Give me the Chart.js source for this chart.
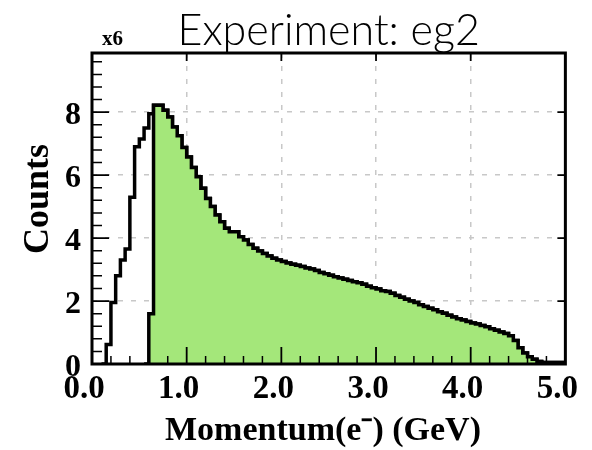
<!DOCTYPE html>
<html><head><meta charset="utf-8">
<script src="https://cdn.jsdelivr.net/npm/chart.js@4.4.0/dist/chart.umd.min.js"></script>
<style>html,body{margin:0;padding:0;background:#fff;}#wrap{width:592px;height:450px;}</style>
</head><body><div id="wrap"><canvas id="c" width="592" height="450"></canvas></div>
<script>
// ---- data (momentum bins of 0.05 GeV, counts in units of 10^6) ----
const binLowEdges = [0.10,0.15,0.20,0.25,0.30,0.35,0.40,0.45,0.50,0.55,0.60,0.65,0.70,0.75,0.80,0.85,0.90,0.95,
  1.00,1.05,1.10,1.15,1.20,1.25,1.30,1.35,1.40,1.45,1.50,1.55,1.60,1.65,1.70,1.75,1.80,1.85,1.90,1.95,
  2.00,2.05,2.10,2.15,2.20,2.25,2.30,2.35,2.40,2.45,2.50,2.55,2.60,2.65,2.70,2.75,2.80,2.85,2.90,2.95,
  3.00,3.05,3.10,3.15,3.20,3.25,3.30,3.35,3.40,3.45,3.50,3.55,3.60,3.65,3.70,3.75,3.80,3.85,3.90,3.95,
  4.00,4.05,4.10,4.15,4.20,4.25,4.30,4.35,4.40,4.45,4.50,4.55,4.60,4.65,4.70,4.75,4.80,4.85,4.90,4.95];
const histUpperEdge = 5.00;
const countsAll = [0,0.62,1.95,2.8,3.3,3.65,5.3,6.9,7.15,7.5,7.95,8.22,8.22,8.06,7.85,7.53,7.25,6.88,
  6.58,6.24,5.95,5.58,5.26,5.0,4.73,4.52,4.31,4.2,4.2,4.04,3.94,3.8,3.68,3.59,3.51,3.43,3.36,3.3,
  3.26,3.21,3.17,3.14,3.1,3.05,3.02,2.97,2.91,2.87,2.82,2.77,2.73,2.69,2.65,2.61,2.58,2.53,2.47,2.42,
  2.38,2.33,2.3,2.25,2.18,2.12,2.06,2.0,1.95,1.88,1.83,1.77,1.72,1.66,1.61,1.55,1.49,1.44,1.4,1.35,
  1.3,1.27,1.22,1.18,1.12,1.07,1.02,0.97,0.9,0.75,0.52,0.35,0.23,0.15,0.08,0.05,0.05,0.05,0.05,0.05];
const countsCut = [null,null,null,null,null,null,null,null,null,0,1.6,8.22,8.22,8.06,7.85,7.53,7.25,6.88,
  6.58,6.24,5.95,5.58,5.26,5.0,4.73,4.52,4.31,4.2,4.2,4.04,3.94,3.8,3.68,3.59,3.51,3.43,3.36,3.3,
  3.26,3.21,3.17,3.14,3.1,3.05,3.02,2.97,2.91,2.87,2.82,2.77,2.73,2.69,2.65,2.61,2.58,2.53,2.47,2.42,
  2.38,2.33,2.3,2.25,2.18,2.12,2.06,2.0,1.95,1.88,1.83,1.77,1.72,1.66,1.61,1.55,1.49,1.44,1.4,1.35,
  1.3,1.27,1.22,1.18,1.12,1.07,1.02,0.97,0.9,0.75,0.52,0.35,0.23,0.15,0.08,0.05,0.05,0.05,0.05,0.05];
const xTickValues = [0,1,2,3,4,5];
const yTickValues = [0,2,4,6,8];
const xMinorTickValues = [0.2,0.4,0.6,0.8,1.2,1.4,1.6,1.8,2.2,2.4,2.6,2.8,3.2,3.4,3.6,3.8,4.2,4.4,4.6,4.8];
const yMinorTickValues = [0.4,0.8,1.2,1.6,2.4,2.8,3.2,3.6,4.4,4.8,5.2,5.6,6.4,6.8,7.2,7.6,8.4,8.8,9.2,9.6];
const chartTitle = 'Experiment: eg2';
const scaleNote = 'x6';
const xTitle = 'Momentum(e\u207B) (GeV)';
const yTitle = 'Counts';

function toSteps(edges, counts, upper) {
  const pts = []; let last = 0;
  for (let i = 0; i < edges.length; i++) {
    if (counts[i] === null) continue;
    pts.push({x: edges[i], y: counts[i]}); last = counts[i];
  }
  pts.push({x: upper, y: last});
  return pts;
}

const serif = "'Liberation Serif','Times New Roman',serif";

const framePlugin = {
  id: 'frame',
  afterDraw(chart) {
    const {ctx, chartArea: {left, right, top, bottom}, scales: {x, y}} = chart;
    ctx.save();
    ctx.strokeStyle = '#000';
    // ticks
    ctx.lineWidth = 1.8;
    ctx.beginPath();
    xTickValues.forEach(v => { if (v > 0 && v < 5) { const px = x.getPixelForValue(v);
      ctx.moveTo(px, bottom); ctx.lineTo(px, bottom - 17);
      ctx.moveTo(px, top); ctx.lineTo(px, top + 8); } });
    yTickValues.forEach(v => { if (v > 0) { const py = y.getPixelForValue(v);
      ctx.moveTo(left, py); ctx.lineTo(left + 17, py);
      ctx.moveTo(right, py); ctx.lineTo(right - 8, py); } });
    ctx.stroke();
    ctx.lineWidth = 1.5;
    ctx.beginPath();
    xMinorTickValues.forEach(v => { const px = x.getPixelForValue(v);
      ctx.moveTo(px, bottom); ctx.lineTo(px, bottom - 8); });
    yMinorTickValues.forEach(v => { const py = y.getPixelForValue(v);
      ctx.moveTo(left, py); ctx.lineTo(left + 10, py); });
    ctx.stroke();
    // frame
    ctx.lineWidth = 3;
    ctx.strokeRect(left, top, right - left, bottom - top);
    // texts
    ctx.fillStyle = '#000';
    ctx.textAlign = 'center'; ctx.textBaseline = 'alphabetic';
    ctx.font = "300 43px Lato, 'Open Sans', sans-serif";
    ctx.fillText(chartTitle, (left + right) / 2, 45);
    ctx.textAlign = 'left';
    ctx.font = "bold 21px " + serif;
    ctx.fillText(scaleNote, 102, 45);
    ctx.textAlign = 'center'; ctx.textBaseline = 'middle';
    ctx.font = "bold 34px " + serif;
    ctx.fillText(xTitle, 323, 431);
    ctx.translate(39, 199);
    ctx.rotate(-Math.PI / 2);
    ctx.font = "bold 36px " + serif;
    ctx.fillText(yTitle, 0, 0);
    ctx.restore();
  }
};

new Chart(document.getElementById('c'), {
  type: 'line',
  data: {
    datasets: [
      {label: 'all', data: toSteps(binLowEdges, countsAll, histUpperEdge), stepped: true,
       borderColor: '#000', borderWidth: 3.5, fill: false, pointRadius: 0, order: 1,
       borderJoinStyle: 'miter', borderCapStyle: 'butt'},
      {label: 'cut', data: toSteps(binLowEdges, countsCut, histUpperEdge), stepped: true,
       borderColor: '#000', borderWidth: 3.5, backgroundColor: 'rgb(164,231,122)', fill: 'origin',
       pointRadius: 0, order: 0, borderJoinStyle: 'miter', borderCapStyle: 'butt'}
    ]
  },
  options: {
    responsive: false, animation: false, events: [],
    layout: {padding: {top: 53, right: 23, bottom: 0, left: 0}},
    plugins: {legend: {display: false}, tooltip: {enabled: false}, title: {display: false}},
    scales: {
      x: {
        type: 'linear', min: 0, max: 5, z: 1,
        afterFit: s => { s.height = 86; },
        afterBuildTicks: s => { s.ticks = xTickValues.map(v => ({value: v})); },
        ticks: {callback: v => v.toFixed(1), font: {family: serif, size: 33, weight: 'bold'},
                color: '#000', padding: 6, labelOffset: -8, maxRotation: 0, autoSkip: false},
        grid: {drawTicks: false, lineWidth: 1.5,
               color: c => (c.tick && c.tick.value > 0 && c.tick.value < 5) ? 'rgb(200,200,200)' : 'rgba(0,0,0,0)'},
        border: {display: false, dash: [5, 8]},
        title: {display: false, text: xTitle}
      },
      y: {
        type: 'linear', min: 0, max: 9.88, z: 1,
        afterFit: s => { s.width = 92; },
        afterBuildTicks: s => { s.ticks = yTickValues.map(v => ({value: v})); },
        ticks: {font: {family: serif, size: 32, weight: 'bold'}, color: '#000', padding: 11, labelOffset: 4},
        grid: {drawTicks: false, lineWidth: 1.5,
               color: c => (c.tick && c.tick.value > 0) ? 'rgb(200,200,200)' : 'rgba(0,0,0,0)'},
        border: {display: false, dash: [5, 8]},
        title: {display: false, text: yTitle}
      }
    }
  },
  plugins: [framePlugin]
});
</script></body></html>
